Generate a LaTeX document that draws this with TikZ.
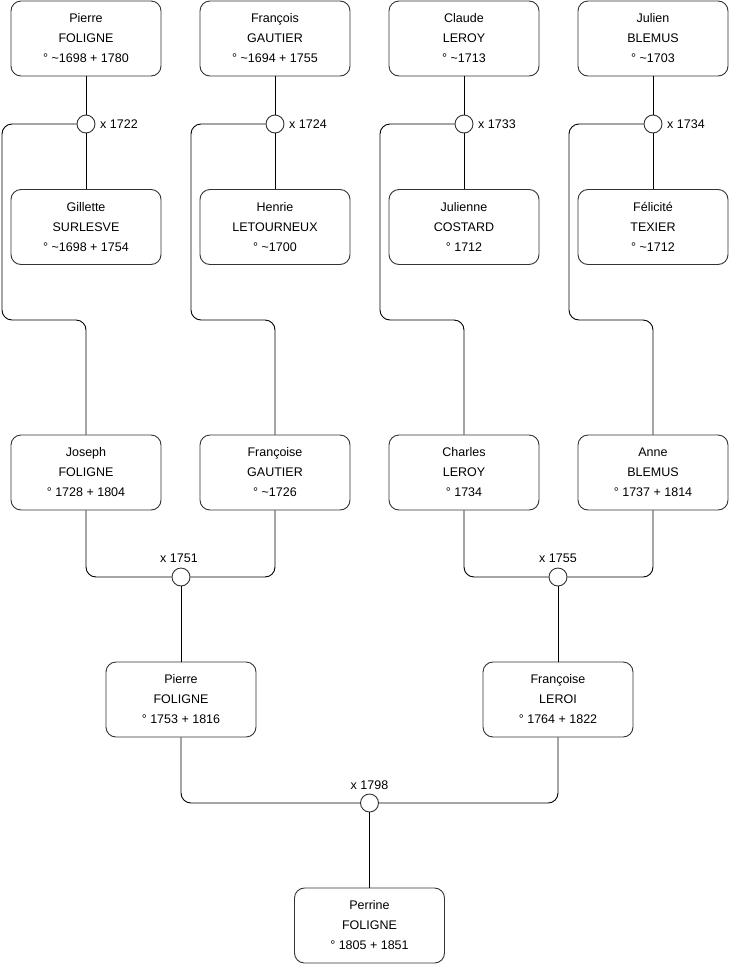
\documentclass[tikz,border=0pt]{standalone}
\usepackage{fontspec}
\setmainfont{Liberation Sans}
\begin{document}
\begin{tikzpicture}[x=1pt,y=-1pt,
  person/.style={draw=black!80,line width=0.9pt,rounded corners=10pt,minimum width=150pt,minimum height=75pt,inner sep=0pt,align=center,font=\fontsize{12.5}{20}\selectfont},
  marr/.style={draw=black!80,line width=0.9pt,circle,minimum size=18pt,inner sep=0pt,fill=white},
  conn/.style={draw=black,line width=0.9pt,rounded corners=10pt},
  lbl/.style={font=\fontsize{12.5}{14}\selectfont,inner sep=0pt}]
\fill[white] (0,0) rectangle (740,975);
\useasboundingbox (0,0) rectangle (740,975);
% row 1
\node[person] (a1) at (86,38.5) {Pierre\\FOLIGNE\\° \textasciitilde1698 + 1780};
\node[person] (a2) at (275,38.5) {François\\GAUTIER\\° \textasciitilde1694 + 1755};
\node[person] (a3) at (464,38.5) {Claude\\LEROY\\° \textasciitilde1713};
\node[person] (a4) at (653,38.5) {Julien\\BLEMUS\\° \textasciitilde1703};
% marriages row 1
\node[marr] (m1) at (86,124) {};
\node[marr] (m2) at (275,124) {};
\node[marr] (m3) at (464,124) {};
\node[marr] (m4) at (653,124) {};
\node[lbl,anchor=west] (l1) at (100,124) {x 1722};
\node[lbl,anchor=west] (l2) at (289,124) {x 1724};
\node[lbl,anchor=west] (l3) at (478,124) {x 1733};
\node[lbl,anchor=west] (l4) at (667,124) {x 1734};
% spouses
\node[person] (b1) at (86,227) {Gillette\\SURLESVE\\° \textasciitilde1698 + 1754};
\node[person] (b2) at (275,227) {Henrie\\LETOURNEUX\\° \textasciitilde1700};
\node[person] (b3) at (464,227) {Julienne\\COSTARD\\° 1712};
\node[person] (b4) at (653,227) {Félicité\\TEXIER\\° \textasciitilde1712};
% children row 3
\node[person] (c1) at (86,472.5) {Joseph\\FOLIGNE\\° 1728 + 1804};
\node[person] (c2) at (275,472.5) {Françoise\\GAUTIER\\° \textasciitilde1726};
\node[person] (c3) at (464,472.5) {Charles\\LEROY\\° 1734};
\node[person] (c4) at (653,472.5) {Anne\\BLEMUS\\° 1737 + 1814};
% marriages row 3
\node[marr] (m5) at (181,577) {};
\node[marr] (m6) at (558,577) {};
\node[lbl] (l5) at (179,558) {x 1751};
\node[lbl] (l6) at (558,558) {x 1755};
% row 4
\node[person] (d1) at (181,699.5) {Pierre\\FOLIGNE\\° 1753 + 1816};
\node[person] (d2) at (558,699.5) {Françoise\\LEROI\\° 1764 + 1822};
\node[marr] (m7) at (369.5,803) {};
\node[lbl] (l7) at (369.5,785) {x 1798};
\node[person] (e1) at (369.5,925.5) {Perrine\\FOLIGNE\\° 1805 + 1851};
% connectors row 1
\foreach \i in {1,2,3,4}{
  \draw[conn] (a\i.south) -- (m\i.north);
  \draw[conn] (m\i.south) -- (b\i.north);
}
\draw[conn] (m1.west) -- (2,124) -- (2,320) -- (86,320) -- (c1.north);
\draw[conn] (m2.west) -- (191,124) -- (191,320) -- (275,320) -- (c2.north);
\draw[conn] (m3.west) -- (380,124) -- (380,320) -- (464,320) -- (c3.north);
\draw[conn] (m4.west) -- (569,124) -- (569,320) -- (653,320) -- (c4.north);
% row 3 marriages
\draw[conn] (c1.south) |- (m5.west);
\draw[conn] (c2.south) |- (m5.east);
\draw[conn] (m5.south) -- (d1.north);
\draw[conn] (c3.south) |- (m6.west);
\draw[conn] (c4.south) |- (m6.east);
\draw[conn] (m6.south) -- (d2.north);
% row 4
\draw[conn] (d1.south) |- (m7.west);
\draw[conn] (d2.south) |- (m7.east);
\draw[conn] (m7.south) -- (e1.north);
\end{tikzpicture}
\end{document}
